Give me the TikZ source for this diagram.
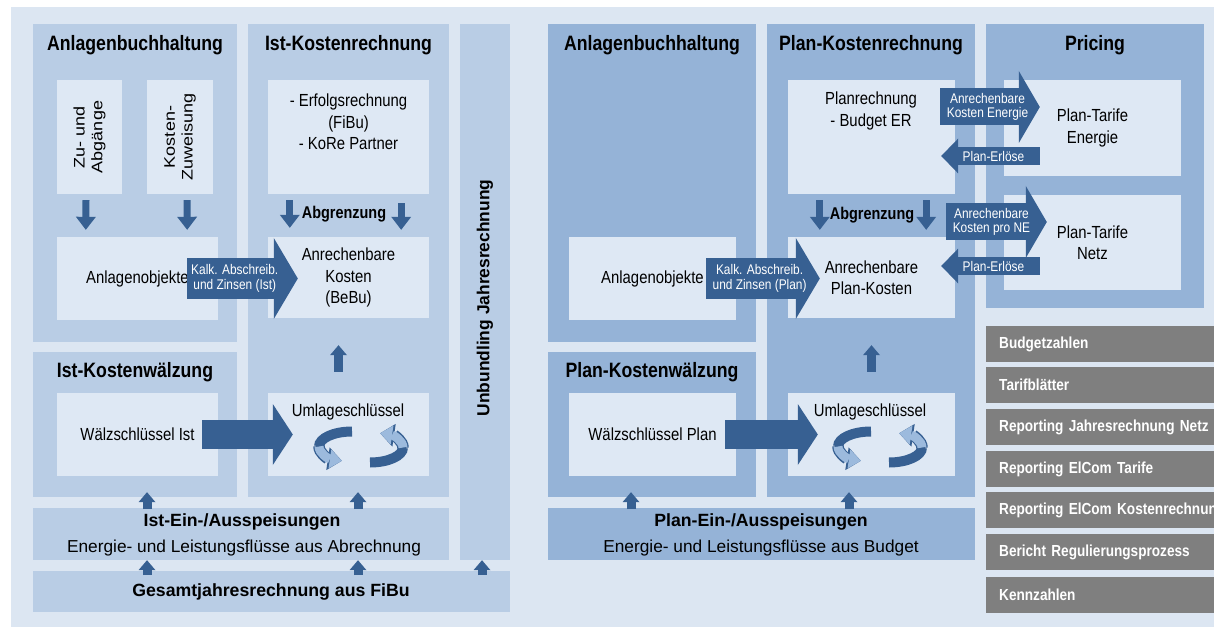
\documentclass[tikz,border=0pt]{standalone}
\usepackage{fontspec}
\setmainfont{Liberation Sans}[FakeStretch=0.85]
\newfontfamily\plainsf{Liberation Sans}
\usepackage{tikz}
\usepackage{xcolor}
\usetikzlibrary{shapes, arrows.meta, calc, positioning}
\definecolor{bgblue}{HTML}{DCE6F2}
\definecolor{istblue}{HTML}{B9CDE5}
\definecolor{planblue}{HTML}{95B3D7}
\definecolor{cellblue}{HTML}{DEE8F4}
\definecolor{arrblue}{HTML}{376092}
\definecolor{bandblue}{HTML}{9CBADD}
\definecolor{listgrey}{HTML}{7F7F7F}
\tikzset{istbox/.style={fill=istblue, inner sep=0pt}}
\tikzset{planbox/.style={fill=planblue, inner sep=0pt}}
\tikzset{cell/.style={fill=cellblue, inner sep=0pt, align=center, font=\fontsize{17.5}{21.5}\selectfont}}
\tikzset{celltext/.style={inner sep=0pt, align=center, font=\fontsize{17.5}{21.5}\selectfont}}
\tikzset{boxtitle/.style={inner sep=0pt, font=\bfseries\fontsize{20.8}{24}\selectfont}}
\tikzset{bartitle/.style={inner sep=0pt, font=\plainsf\bfseries\fontsize{17.7}{21}\selectfont}}
\tikzset{bartext/.style={inner sep=0pt, font=\plainsf\fontsize{17.3}{21}\selectfont}}
\tikzset{turned/.style={inner sep=0pt, align=center, rotate=90, yscale=0.85, font=\plainsf\fontsize{18}{21}\selectfont}}
\tikzset{arrtext/.style={text=white, inner sep=0pt, align=center, font=\fontsize{14}{14.5}\selectfont}}
\tikzset{listrow/.style={fill=listgrey, text=white, anchor=west, minimum height=36pt, text width=228pt, inner xsep=13pt, inner ysep=0pt, align=left, font=\bfseries\fontsize{16}{19}\selectfont}}
\tikzset{downarr/.style={color=arrblue, line width=7pt, -{Triangle[length=13pt, width=20pt, line width=0pt]}}}
\tikzset{uparr/.style={color=arrblue, line width=9pt, -{Triangle[length=10pt, width=17pt, line width=0pt]}}}
\tikzset{kalkarr/.style={color=arrblue, line width=41pt, -{Triangle[length=24pt, width=81pt, line width=0pt]}}}
\tikzset{waelzarr/.style={color=arrblue, line width=29pt, -{Triangle[length=20pt, width=61pt, line width=0pt]}}}
\tikzset{tarifarr/.style={color=arrblue, line width=37pt, -{Triangle[length=21pt, width=72pt, line width=0pt]}}}
\tikzset{erloesarr/.style={color=arrblue, line width=18pt, -{Triangle[length=17pt, width=35pt, line width=0pt]}}}
\tikzset{iconband/.style={color=arrblue, line width=10pt}}
\tikzset{iconedge/.style={color=arrblue, line width=11.5pt, -{Triangle[length=14pt, width=23pt, line width=0pt]}}}
\tikzset{iconarr/.style={color=bandblue, line width=9pt, -{Triangle[length=12pt, width=19pt, line width=0pt]}}}

\begin{document}
\begin{tikzpicture}[x=1pt, y=-1pt]
        \useasboundingbox (0,0) rectangle (1214,628);
        \clip (0,0) rectangle (1214,628);
        \fill[white] (0,0) rectangle (1214,628);
        \fill[bgblue] (11,7) rectangle (1214,627);

        % Ist side
        \node[istbox, minimum width=204pt, minimum height=318pt] (abL) at (135,183) {};
        \node[istbox, minimum width=201pt, minimum height=473pt] (krI) at (348.5,260.5) {};
        \node[istbox, minimum width=50pt, minimum height=536pt] (ub) at (485,292) {};
        \node[istbox, minimum width=204pt, minimum height=145pt] (wI) at (135,424.5) {};
        \node[istbox, minimum width=416pt, minimum height=52pt] (eaI) at (241,534) {};
        \node[istbox, minimum width=477pt, minimum height=41pt] (gj) at (271.5,591.5) {};

        \node[cell, minimum width=65pt, minimum height=114pt] (zu) at (89.5,137) {};
        \node[cell, minimum width=66pt, minimum height=114pt] (kz) at (180,137) {};
        \node[cell, minimum width=161pt, minimum height=83pt] (ao) at (137.5,278.5) {Anlagenobjekte};
        \node[cell, minimum width=161pt, minimum height=114pt] (er) at (348.5,137) {};
        \node[cell, minimum width=161pt, minimum height=81pt] (ak) at (348.5,277.5) {Anrechenbare\\Kosten\\(BeBu)};
        \node[cell, minimum width=161pt, minimum height=83pt] (ws) at (137.5,434.5) {Wälzschlüssel Ist};
        \node[cell, minimum width=161pt, minimum height=83pt] (um) at (348.5,434.5) {};

        \node[boxtitle] (abLt) at (135,45) {Anlagenbuchhaltung};
        \node[boxtitle] (krIt) at (348.5,45) {Ist-Kostenrechnung};
        \node[boxtitle] (wIt) at (135,372) {Ist-Kostenwälzung};
        \node[turned] (zut) at (zu) {Zu- und\\Abgänge};
        \node[turned] (kzt) at (kz) {Kosten-\\Zuweisung};
        \node[celltext] (ert) at (348.5,122) {- Erfolgsrechnung\\(FiBu)\\- KoRe Partner};
        \node[celltext, font=\bfseries\fontsize{17}{20}\selectfont] (abgI) at (344,214) {Abgrenzung};
        \node[celltext] (umt) at (348,412) {Umlageschlüssel};
        \node[bartitle] (eaIt) at (242,522) {Ist-Ein-/Ausspeisungen};
        \node[bartext] (eaIs) at (244,548) {Energie- und Leistungsflüsse aus Abrechnung};
        \node[bartitle] (gjt) at (271,592) {Gesamtjahresrechnung aus FiBu};
        \node[rotate=90, inner sep=0pt, font=\plainsf\bfseries\fontsize{17.4}{20}\selectfont] (ubt) at (485,298) {Unbundling Jahresrechnung};

        % Plan side
        \node[planbox, minimum width=208pt, minimum height=318pt] (abP) at (652,183) {};
        \node[planbox, minimum width=208pt, minimum height=473pt] (krP) at (871,260.5) {};
        \node[planbox, minimum width=208pt, minimum height=145pt] (wP) at (652,424.5) {};
        \node[planbox, minimum width=427pt, minimum height=52pt] (eaP) at (761.5,534) {};
        \node[planbox, minimum width=218pt, minimum height=284pt] (pc) at (1095,166) {};

        \node[cell, minimum width=167pt, minimum height=114pt] (pr) at (871.5,137) {};
        \node[cell, minimum width=167pt, minimum height=81pt] (apk) at (871.5,277.5) {Anrechenbare\\Plan-Kosten};
        \node[cell, minimum width=167pt, minimum height=83pt] (aoP) at (652.5,278.5) {Anlagenobjekte};
        \node[cell, minimum width=167pt, minimum height=83pt] (wsP) at (652.5,434.5) {Wälzschlüssel Plan};
        \node[cell, minimum width=167pt, minimum height=83pt] (umP) at (871.5,434.5) {};
        \node[cell, minimum width=177pt, minimum height=96pt] (pte) at (1092.5,128) {Plan-Tarife\\Energie};
        \node[cell, minimum width=177pt, minimum height=95pt] (ptn) at (1092.5,242.5) {Plan-Tarife\\Netz};

        \node[boxtitle] (abPt) at (652,45) {Anlagenbuchhaltung};
        \node[boxtitle] (krPt) at (871,45) {Plan-Kostenrechnung};
        \node[boxtitle] (wPt) at (652,372) {Plan-Kostenwälzung};
        \node[boxtitle] (pct) at (1095,45) {Pricing};
        \node[celltext] (prt) at (871,111) {Planrechnung\\- Budget ER};
        \node[celltext, font=\bfseries\fontsize{17}{20}\selectfont] (abgP) at (872,215) {Abgrenzung};
        \node[celltext] (umPt) at (870,412) {Umlageschlüssel};
        \node[bartitle] (eaPt) at (761,522) {Plan-Ein-/Ausspeisungen};
        \node[bartext] (eaPs) at (761,548) {Energie- und Leistungsflüsse aus Budget};

        % reports
        \node[listrow] (l1) at (986,344) {Budgetzahlen};
        \node[listrow] (l2) at (986,385) {Tarifblätter};
        \node[listrow] (l3) at (986,427) {Reporting Jahresrechnung Netz};
        \node[listrow] (l4) at (986,469) {Reporting ElCom Tarife};
        \node[listrow] (l5) at (986,510) {Reporting ElCom Kostenrechnung};
        \node[listrow] (l6) at (986,552) {Bericht Regulierungsprozess};
        \node[listrow] (l7) at (986,594.5) {Kennzahlen};

        % arrows Ist
        \draw[downarr] ([xshift=-3.5pt,yshift=-6pt]zu.south) -- ([xshift=29pt,yshift=7pt]ao.north west);
        \draw[downarr] ([xshift=7pt,yshift=-6pt]kz.south) -- ([xshift=-31pt,yshift=7pt]ao.north east);
        \draw[downarr] ([xshift=22pt,yshift=-6pt]er.south west) -- ([xshift=22pt,yshift=9pt]ak.north west);
        \draw[downarr] ([xshift=-28pt,yshift=-9pt]er.south east) -- ([xshift=-28pt,yshift=7pt]ak.north east);
        \draw[kalkarr] ([xshift=-31pt]ao.east) -- ([xshift=30pt,yshift=-1pt]ak.west)
            node[arrtext, pos=0.43] (kalkI) {Kalk. Abschreib.\\und Zinsen (Ist)};
        \draw[waelzarr] ([xshift=-16pt]ws.east) -- ([xshift=25pt]um.west);
        \draw[uparr] ([xshift=-10pt,yshift=21pt]um.north) -- ([xshift=-10pt,yshift=-27pt]ak.south);
        \draw[uparr] ([xshift=12pt,yshift=-12pt]wI.south) -- ([xshift=12pt,yshift=5pt]wI.south);
        \draw[uparr] ([xshift=9.5pt,yshift=-12pt]krI.south) -- ([xshift=9.5pt,yshift=5pt]krI.south);
        \draw[uparr] ([xshift=-94pt,yshift=-15pt]eaI.south) -- ([xshift=-94pt]eaI.south);
        \draw[uparr] ([xshift=117pt,yshift=-15pt]eaI.south) -- ([xshift=117pt]eaI.south);
        \draw[uparr] ([xshift=-3pt,yshift=-15pt]ub.south) -- ([xshift=-3pt]ub.south);

        % arrows Plan
        \draw[downarr] ([xshift=32pt,yshift=-6pt]pr.south west) -- ([xshift=32pt,yshift=7pt]apk.north west);
        \draw[downarr] ([xshift=-29pt,yshift=-6pt]pr.south east) -- ([xshift=-29pt,yshift=7pt]apk.north east);
        \draw[kalkarr] ([xshift=-30pt]aoP.east) -- ([xshift=32pt,yshift=-1pt]apk.west)
            node[arrtext, pos=0.47] (kalkP) {Kalk. Abschreib.\\und Zinsen (Plan)};
        \draw[waelzarr] ([xshift=-11pt]wsP.east) -- ([xshift=30pt]umP.west);
        \draw[uparr] ([yshift=21pt]umP.north) -- ([yshift=-27pt]apk.south);
        \draw[uparr] ([xshift=-21pt,yshift=-12pt]wP.south) -- ([xshift=-21pt,yshift=5pt]wP.south);
        \draw[uparr] ([xshift=-22pt,yshift=-12pt]krP.south) -- ([xshift=-22pt,yshift=5pt]krP.south);

        % arrows Pricing
        \draw[tarifarr] ([xshift=-15pt,yshift=30pt]pr.east) -- ([xshift=36pt,yshift=21pt]pte.west)
            node[arrtext, pos=0.475] (ake) {Anrechenbare\\Kosten Energie};
        \draw[erloesarr] ([xshift=36pt,yshift=-28pt]pte.west) -- ([xshift=-14pt,yshift=-19pt]pr.east)
            node[arrtext, pos=0.47] (pe1) {Plan-Erlöse};
        \draw[tarifarr] ([xshift=-9pt,yshift=55.5pt]apk.east) -- ([xshift=43pt,yshift=20.5pt]ptn.west)
            node[arrtext, pos=0.45] (akn) {Anrechenbare\\Kosten pro NE};
        \draw[erloesarr] ([xshift=36pt,yshift=-23.5pt]ptn.west) -- ([xshift=-14pt,yshift=11.5pt]apk.east)
            node[arrtext, pos=0.47] (pe2) {Plan-Erlöse};

        % Umlage icons: two half rings each
        \coordinate (umIl) at ([xshift=3.5pt,yshift=-12pt]um.center);
        \coordinate (umIr) at ([xshift=21.5pt,yshift=-13pt]um.center);
        \coordinate (umPl) at ([xshift=-0.5pt,yshift=-12pt]umP.center);
        \coordinate (umPr) at ([xshift=17.5pt,yshift=-13pt]umP.center);
        \foreach \c in {umIl, umPl} {
            \draw[iconband] (\c) ++(270:33 and 15) arc[start angle=270, end angle=180, x radius=33, y radius=15];
            \draw[iconedge] (\c) ++(182:33 and 15) arc[start angle=182, end angle=108, x radius=33, y radius=15];
            \draw[iconarr] (\c) ++(180:33 and 15) arc[start angle=180, end angle=108, x radius=33, y radius=15];
        }
        \foreach \c in {umIr, umPr} {
            \draw[iconband] (\c) ++(90:33 and 15) arc[start angle=90, end angle=0, x radius=33, y radius=15];
            \draw[iconedge] (\c) ++(2:33 and 15) arc[start angle=362, end angle=288, x radius=33, y radius=15];
            \draw[iconarr] (\c) ++(0:33 and 15) arc[start angle=360, end angle=288, x radius=33, y radius=15];
        }
    \end{tikzpicture}
\end{document}
